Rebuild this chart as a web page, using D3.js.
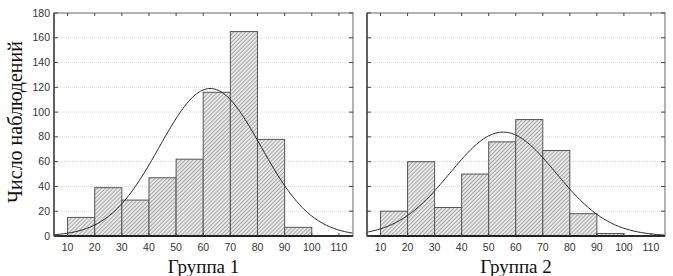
<!DOCTYPE html>
<html>
<head>
<meta charset="utf-8">
<script src="https://cdnjs.cloudflare.com/ajax/libs/d3/7.8.5/d3.min.js"></script>
<style>
body { margin: 0; background: #fff; }
svg { display: block; }
</style>
</head>
<body>
<div id="chart"></div>
<script>
// bins (lower edges), width 10
var binStarts = [10, 20, 30, 40, 50, 60, 70, 80, 90];
var group1 = [15, 39, 29, 47, 62, 116, 165, 78, 7];
var group2 = [20, 60, 23, 50, 76, 94, 69, 18, 2];
var groupNames = ["Группа 1", "Группа 2"];
var xTicks = [10, 20, 30, 40, 50, 60, 70, 80, 90, 100, 110];
var yTicks = [0, 20, 40, 60, 80, 100, 120, 140, 160, 180];
// fitted normal curves: mean, sd
var fit1 = {mean: 62.6, sd: 18.7};
var fit2 = {mean: 55.3, sd: 19.6};
var yLabel = "Число наблюдений";

var width = 673, height = 276;
var svg = d3.select("#chart").append("svg").attr("width", width).attr("height", height);

var defs = svg.append("defs");
var pat = defs.append("pattern")
    .attr("id", "hatch")
    .attr("patternUnits", "userSpaceOnUse")
    .attr("width", 2.8).attr("height", 2.8)
    .attr("patternTransform", "rotate(45)");
pat.append("rect").attr("width", 2.8).attr("height", 2.8).attr("fill", "#e8e8e8");
pat.append("line").attr("x1", 0).attr("y1", 0).attr("x2", 0).attr("y2", 2.8)
    .attr("stroke", "#777").attr("stroke-width", 1.1);

var panels = [
  {left: 54, right: 353, data: group1, fit: fit1, name: groupNames[0], yAxis: true},
  {left: 367, right: 665, data: group2, fit: fit2, name: groupNames[1], yAxis: false}
];
var plotTop = 13, plotBottom = 236;

var y = d3.scaleLinear().domain([0, 180]).range([plotBottom, plotTop]);

panels.forEach(function(p) {
  var x = d3.scaleLinear().domain([5, 115.2]).range([p.left, p.right]);
  var g = svg.append("g");

  // grid
  g.selectAll(".grid").data(yTicks.slice(1, -1)).enter().append("line")
      .attr("x1", p.left).attr("x2", p.right)
      .attr("y1", function(d){ return y(d); }).attr("y2", function(d){ return y(d); })
      .attr("stroke", "#d8d8d8").attr("stroke-width", 1).attr("stroke-dasharray", "1,1");

  // bars
  g.selectAll(".bar").data(p.data).enter().append("rect")
      .attr("x", function(d, i){ return x(binStarts[i]); })
      .attr("y", function(d){ return y(d); })
      .attr("width", function(d, i){ return x(binStarts[i] + 10) - x(binStarts[i]); })
      .attr("height", function(d){ return plotBottom - y(d); })
      .attr("fill", "url(#hatch)")
      .attr("stroke", "#555").attr("stroke-width", 1);

  // normal curve
  var n = d3.sum(p.data);
  var pts = d3.range(5, 115.21, 0.5).map(function(v) {
    var z = (v - p.fit.mean) / p.fit.sd;
    return [v, n * 10 / (p.fit.sd * Math.sqrt(2 * Math.PI)) * Math.exp(-z * z / 2)];
  });
  g.append("path").datum(pts)
      .attr("fill", "none").attr("stroke", "#222").attr("stroke-width", 1)
      .attr("d", d3.line().x(function(d){ return x(d[0]); }).y(function(d){ return y(d[1]); }));

  // frame
  g.append("rect").attr("x", p.left).attr("y", plotTop)
      .attr("width", p.right - p.left).attr("height", plotBottom - plotTop)
      .attr("fill", "none").attr("stroke", "#666").attr("stroke-width", 1);
  g.append("line").attr("x1", p.left).attr("x2", p.right).attr("y1", plotBottom).attr("y2", plotBottom)
      .attr("stroke", "#000").attr("stroke-width", 1.5);
  g.append("line").attr("x1", p.left).attr("x2", p.left).attr("y1", plotTop).attr("y2", plotBottom)
      .attr("stroke", "#444").attr("stroke-width", 1.5);

  // inner ticks
  g.selectAll(".tt").data(xTicks).enter().append("line")
      .attr("x1", function(d){ return x(d); }).attr("x2", function(d){ return x(d); })
      .attr("y1", plotTop).attr("y2", plotTop + 3).attr("stroke", "#444");
  g.selectAll(".bt").data(xTicks).enter().append("line")
      .attr("x1", function(d){ return x(d); }).attr("x2", function(d){ return x(d); })
      .attr("y1", plotBottom).attr("y2", plotBottom - 3).attr("stroke", "#444");
  g.selectAll(".lt").data(yTicks).enter().append("line")
      .attr("x1", p.left).attr("x2", p.left + 4)
      .attr("y1", function(d){ return y(d); }).attr("y2", function(d){ return y(d); }).attr("stroke", "#444");
  g.selectAll(".rt").data(yTicks).enter().append("line")
      .attr("x1", p.right).attr("x2", p.right - 4)
      .attr("y1", function(d){ return y(d); }).attr("y2", function(d){ return y(d); }).attr("stroke", "#444");

  // x tick labels
  g.selectAll(".xl").data(xTicks).enter().append("text")
      .attr("x", function(d){ return x(d); }).attr("y", 251)
      .attr("text-anchor", "middle")
      .attr("font-family", "Liberation Sans, Arial, sans-serif").attr("font-size", "10.5px")
      .attr("fill", "#333")
      .text(function(d){ return d; });

  // group title
  g.append("text")
      .attr("x", (p.left + p.right) / 2).attr("y", 273)
      .attr("text-anchor", "middle")
      .attr("font-family", "Liberation Serif, Times New Roman, serif").attr("font-size", "19px")
      .attr("fill", "#111")
      .text(p.name);

  if (p.yAxis) {
    g.selectAll(".yl").data(yTicks).enter().append("text")
        .attr("x", p.left - 4).attr("y", function(d){ return y(d) + 3.5; })
        .attr("text-anchor", "end")
        .attr("font-family", "Liberation Sans, Arial, sans-serif").attr("font-size", "10.5px")
        .attr("fill", "#333")
        .text(function(d){ return d; });
  }
});

svg.append("text")
    .attr("transform", "translate(22,122) rotate(-90)")
    .attr("text-anchor", "middle")
    .attr("font-family", "Liberation Serif, Times New Roman, serif").attr("font-size", "20px")
    .attr("fill", "#111")
    .text(yLabel);
</script>
</body>
</html>
